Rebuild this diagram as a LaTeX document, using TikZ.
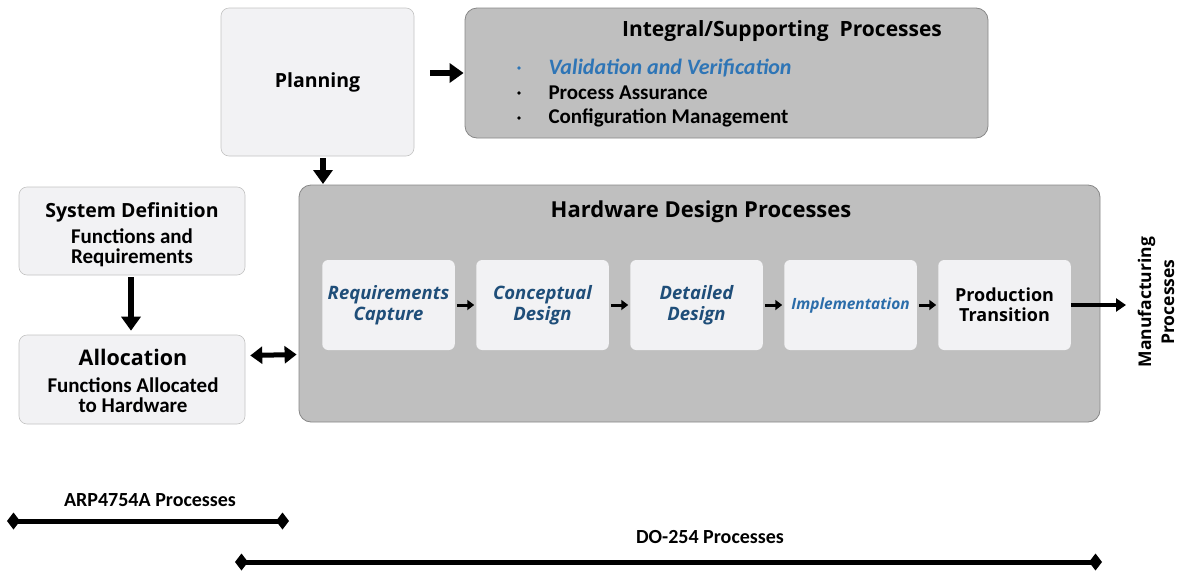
\documentclass[tikz,border=0pt]{standalone}
\usepackage{fontspec}
\setmainfont{Carlito}
\newfontfamily\headfont{Open Sans}
\usepackage{tikz}
\usetikzlibrary{arrows.meta, positioning, calc}
\definecolor{boxlight}{RGB}{242, 242, 244}
\definecolor{boxgrey}{RGB}{191, 191, 191}
\definecolor{edgegrey}{RGB}{135, 135, 135}
\definecolor{stepblue}{RGB}{31, 78, 121}
\definecolor{vvblue}{RGB}{46, 117, 182}

\begin{document}
\begin{tikzpicture}[
  x=1pt, y=-1pt,
  lightbox/.style={draw=edgegrey!50, fill=boxlight, rounded corners=8pt, line width=0.6pt, align=center, inner sep=4pt},
  greybox/.style={draw=edgegrey, fill=boxgrey, rounded corners=12pt, line width=0.8pt},
  stepbox/.style={fill=boxlight, rounded corners=6pt, minimum width=132.5pt, minimum height=90pt, outer sep=0pt, align=center, font=\headfont\bfseries\itshape\fontsize{18.5}{21}\selectfont, text=stepblue, inner sep=2pt},
  headtext/.style={font=\headfont\bfseries\fontsize{21}{24}\selectfont},
  bodytext/.style={font=\bfseries\fontsize{21}{20}\selectfont, align=center},
  bigarrow/.style={-{Triangle[length=14pt, width=19pt]}, line width=6pt},
  smallarrow/.style={-{Triangle[length=7pt, width=10pt]}, line width=3pt},
  spanarrow/.style={{Diamond[length=13pt, width=17pt]}-{Diamond[length=13pt, width=17pt]}, line width=5pt}
]
  \useasboundingbox (0,0) rectangle (1179,571);

  % Planning and integral processes
  \node[lightbox, minimum width=193pt, minimum height=148pt, font=\headfont\bfseries\fontsize{19.5}{22}\selectfont] (plan) at (317.5, 82) {Planning};
  \node[greybox, minimum width=523pt, minimum height=130pt] (integral) at (726.5, 73) {};
  \node[headtext] (inttitle) at (782, 31) {Integral/Supporting~~Processes};
  \node[font=\bfseries\itshape\fontsize{22}{24}\selectfont, text=vvblue, anchor=west] (vv) at (545, 68) {Validation and Verification};
  \node[font=\bfseries\fontsize{21}{24}\selectfont, anchor=west] (pa) at (545, 93) {Process Assurance};
  \node[font=\bfseries\fontsize{21}{24}\selectfont, anchor=west] (cm) at (545, 118) {Configuration Management};
  \foreach \n/\c in {vv/vvblue, pa/black, cm/black}
    \fill[\c] ($(\n.west)+(-26,0)$) circle (1.8pt);

  \draw[bigarrow] (plan.east) ++(16,-9) -- ($(integral.west)+(-1,0)$) coordinate (intin);

  % Hardware design processes
  \node[greybox, minimum width=801pt, minimum height=237pt] (hw) at (699.5, 303.5) {};
  \node[headtext, font=\headfont\bfseries\fontsize{22}{24}\selectfont] (hwtitle) at (701, 212) {Hardware~Design~Processes};
  \draw[bigarrow] (323, 158) -- (323, 184);

  \node[stepbox] (req) at (388.5, 305) {Requirements\\Capture};
  \node[stepbox, right=21.5pt of req] (concept) {Conceptual\\Design};
  \node[stepbox, right=21.5pt of concept] (detail) {Detailed\\Design};
  \node[stepbox, right=21.5pt of detail, text=vvblue!80!stepblue, font=\headfont\bfseries\itshape\fontsize{15.5}{18}\selectfont] (impl) {Implementation};
  \node[stepbox, right=21.5pt of impl, text=black, font=\headfont\bfseries\fontsize{18}{20}\selectfont] (prod) {Production\\Transition};
  \foreach \a/\b in {req/concept, concept/detail, detail/impl, impl/prod}
    \draw[smallarrow] ($(\a.east)+(2,0)$) -- ($(\b.west)+(-2,0)$);

  \node[rotate=90, align=center, font=\headfont\bfseries\fontsize{17.5}{23}\selectfont] (mfg) at (1156, 302) {Manufacturing\\Processes};
  \draw[-{Triangle[length=10pt, width=13pt]}, line width=3.5pt] (prod.east) -- (1126, 305);

  % System side
  \node[lightbox, minimum width=226pt, minimum height=88pt] (sysdef) at (132, 231) {};
  \node[font=\headfont\bfseries\fontsize{19.5}{22}\selectfont] (sdtitle) at (132, 212) {System Definition};
  \node[bodytext] (sdtext) at (132, 248) {Functions and\\Requirements};
  \node[lightbox, minimum width=226pt, minimum height=89pt] (alloc) at (132, 379.5) {};
  \node[font=\headfont\bfseries\fontsize{21.5}{24}\selectfont] (altitle) at (133, 357) {Allocation};
  \node[bodytext] (altext) at (133, 395) {Functions Allocated\\to Hardware};
  \draw[bigarrow] (sysdef.south) ++(-1,2) -- ($(alloc.north)+(-1,-4)$);
  \draw[{Triangle[length=12pt, width=17pt]}-{Triangle[length=12pt, width=17pt]}, line width=5pt] ($(alloc.east)+(5,-24)$) -- ($(hw.west)+(-2,51)$);

  % Process spans
  \node[font=\bfseries\fontsize{20}{22}\selectfont] (arp) at (150, 500) {ARP4754A Processes};
  \coordinate (arpl) at (7, 521);
  \coordinate (arpr) at (289, 521);
  \draw[spanarrow] (arpl) -- (arpr);
  \node[font=\bfseries\fontsize{20}{22}\selectfont] (do) at (710, 537) {DO-254 Processes};
  \coordinate (dol) at (235, 562);
  \coordinate (dor) at (1102, 562);
  \draw[spanarrow] (dol) -- (dor);
\end{tikzpicture}
\end{document}
